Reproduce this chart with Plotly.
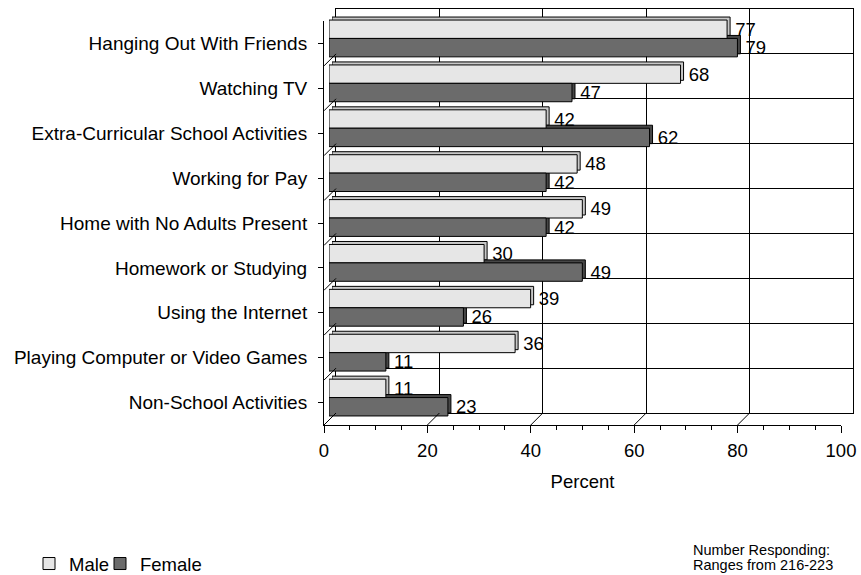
import plotly.graph_objects as go

categories = ["Hanging Out With Friends", "Watching TV", "Extra-Curricular School Activities",
              "Working for Pay", "Home with No Adults Present", "Homework or Studying",
              "Using the Internet", "Playing Computer or Video Games", "Non-School Activities"]
male = [77, 68, 42, 48, 49, 30, 39, 36, 11]
female = [79, 47, 62, 42, 42, 49, 26, 11, 23]
x_ticks = [0, 20, 40, 60, 80, 100]
note_lines = ["Number Responding:", "Ranges from 216-223"]

W, H = 861, 575
FONT = "Liberation Sans, Arial, sans-serif"
FS = 18.5

# front plane pixel box
FX0, FX1, FY0, FY1 = 324, 841, 21, 425
DEPTH = 12


def xd(dx):
    return [(FX0 + dx) / W, (FX1 + dx) / W]


def yd(dy):
    return [1 - (FY1 - dy) / H, 1 - (FY0 - dy) / H]


n = len(categories)
yr = [n - 0.5, -0.5]

fig = go.Figure()

# back wall (x / y)
fig.add_trace(go.Scatter(x=[0, 100], y=[0, 0], mode="markers", marker=dict(opacity=0),
                         showlegend=False, hoverinfo="skip", xaxis="x", yaxis="y"))
# depth faces of the bars (x2 / y2)
fig.add_trace(go.Bar(y=categories, x=male, orientation="h", name="Male", showlegend=False,
                     marker=dict(color="#c8c8c8", line=dict(color="black", width=1)),
                     xaxis="x2", yaxis="y2", hoverinfo="skip"))
fig.add_trace(go.Bar(y=categories, x=female, orientation="h", name="Female", showlegend=False,
                     marker=dict(color="#474747", line=dict(color="black", width=1)),
                     xaxis="x2", yaxis="y2", hoverinfo="skip"))
# front faces of bars (x3 / y3)
fig.add_trace(go.Bar(y=categories, x=male, orientation="h", name="Male", legend="legend",
                     marker=dict(color="#e6e6e6", line=dict(color="black", width=1)),
                     text=male, texttemplate=" %{x}", textposition="outside",
                     constraintext="none",
                     textfont=dict(size=FS, color="black", family=FONT), cliponaxis=False,
                     xaxis="x3", yaxis="y3"))
fig.add_trace(go.Bar(y=categories, x=female, orientation="h", name="Female", legend="legend2",
                     marker=dict(color="#6b6b6b", line=dict(color="black", width=1)),
                     text=female, texttemplate=" %{x}", textposition="outside",
                     constraintext="none",
                     textfont=dict(size=FS, color="black", family=FONT), cliponaxis=False,
                     xaxis="x3", yaxis="y3"))
# front plane axes (x4 / y4)
fig.add_trace(go.Scatter(x=[0] * n, y=categories, mode="markers", marker=dict(opacity=0),
                         showlegend=False, hoverinfo="skip", xaxis="x4", yaxis="y4"))

hidden = dict(showgrid=False, zeroline=False, showticklabels=False, ticks="", showline=False)
legend_style = dict(orientation="h", xanchor="left", y=1 - 564 / H, yanchor="middle",
                    font=dict(size=FS), bgcolor="rgba(0,0,0,0)", itemwidth=30)

layout = dict(
    width=W, height=H, autosize=False,
    margin=dict(l=0, r=0, t=0, b=0, pad=0, autoexpand=False),
    paper_bgcolor="white", plot_bgcolor="rgba(0,0,0,0)",
    font=dict(family=FONT, size=FS, color="black"),
    barmode="group", bargap=0.18, bargroupgap=0,
    showlegend=True,
    legend=dict(x=29 / W, **legend_style),
    legend2=dict(x=100 / W, **legend_style),
    xaxis=dict(domain=xd(DEPTH), range=[0, 100], anchor="y", tickvals=x_ticks, showgrid=True,
               gridcolor="black", gridwidth=1, zeroline=False, showticklabels=False, ticks="",
               showline=True, mirror=True, linecolor="black", linewidth=1),
    yaxis=dict(domain=yd(DEPTH), range=yr, anchor="x", tickvals=[i - 0.5 for i in range(n + 1)],
               showgrid=True, gridcolor="black", gridwidth=1, zeroline=False,
               showticklabels=False, ticks="", showline=True, mirror=True,
               linecolor="black", linewidth=1),
    xaxis2=dict(domain=xd(8), range=[0, 100], anchor="y2", **hidden),
    yaxis2=dict(domain=yd(8), range=yr, anchor="x2", type="category",
                categoryorder="array", categoryarray=categories, **hidden),
    xaxis3=dict(domain=xd(5), range=[0, 100], anchor="y3", **hidden),
    yaxis3=dict(domain=yd(5), range=yr, anchor="x3", type="category",
                categoryorder="array", categoryarray=categories, **hidden),
    xaxis4=dict(domain=xd(0), range=[0, 100], anchor="y4", tickvals=x_ticks, ticks="outside",
                ticklen=7, tickcolor="black", showline=True, linecolor="black", linewidth=1,
                showgrid=False, zeroline=False, ticklabelstandoff=2,
                minor=dict(dtick=5, ticks="outside", ticklen=4, tickcolor="black", showgrid=False),
                title=dict(text="Percent", standoff=14, font=dict(size=FS)),
                tickfont=dict(size=FS)),
    yaxis4=dict(domain=yd(0), range=yr, anchor="x4", type="category",
                categoryorder="array", categoryarray=categories, ticks="outside", ticklen=5,
                tickcolor="black", showline=True, linecolor="black", linewidth=1,
                showgrid=False, zeroline=False, ticklabelstandoff=7, tickfont=dict(size=19)),
)
fig.update_layout(**layout)

# depth edges: floor and left wall
shapes = []
for v in x_ticks:
    shapes.append(dict(type="line", xref="x4", yref="y4", xsizemode="pixel", xanchor=v,
                       ysizemode="pixel", yanchor=n - 0.5, x0=0, x1=DEPTH, y0=0, y1=DEPTH,
                       line=dict(color="black", width=1)))
for i in range(n + 1):
    shapes.append(dict(type="line", xref="x4", yref="y4", xsizemode="pixel", xanchor=0,
                       ysizemode="pixel", yanchor=i - 0.5, x0=0, x1=DEPTH, y0=0, y1=DEPTH,
                       line=dict(color="black", width=1)))
fig.update_layout(shapes=shapes)

for k, line in enumerate(note_lines):
    fig.add_annotation(text=line, xref="paper", yref="paper",
                       x=691 / W, y=1 - (550 + 15 * k) / H, xanchor="left", yanchor="middle",
                       align="left", showarrow=False, font=dict(size=14.5, family=FONT))

fig.write_html("out.html")
